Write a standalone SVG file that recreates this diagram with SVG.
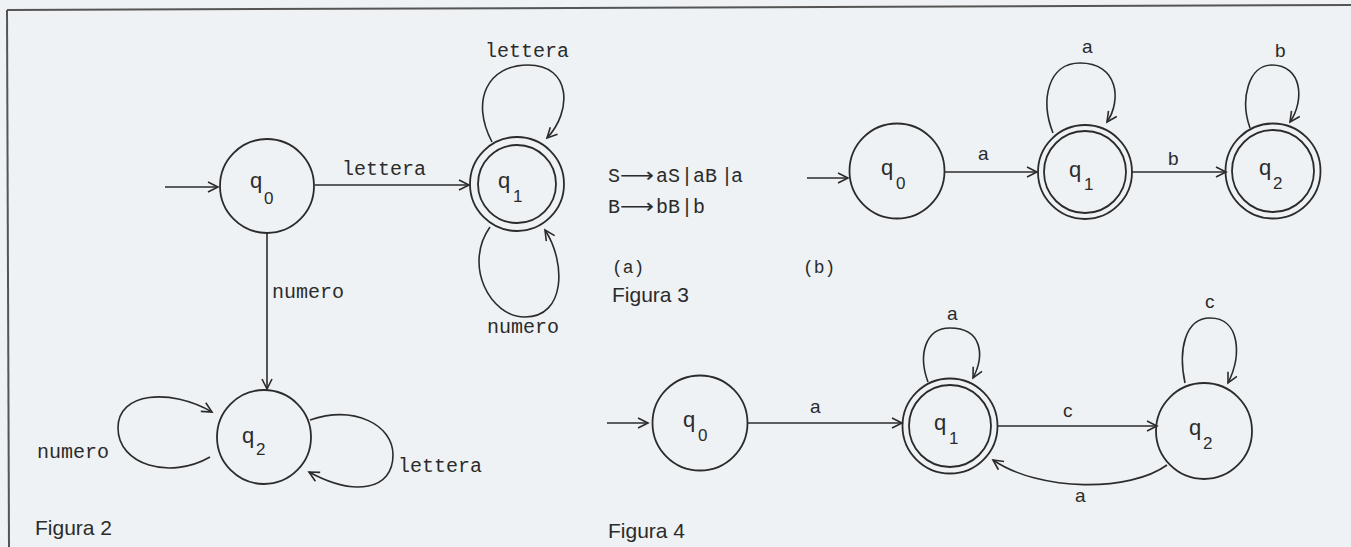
<svg xmlns="http://www.w3.org/2000/svg" width="1351" height="547" viewBox="0 0 1351 547">
<style>
.st{fill:none;stroke:#2b2b2b;stroke-width:1.8}
.ln{fill:none;stroke:#2b2b2b;stroke-width:1.6}
.mono{font-family:"Liberation Mono","DejaVu Sans Mono",monospace;font-size:20px;fill:#2b2b2b}
.sans{font-family:"Liberation Sans",Arial,sans-serif;font-size:19px;fill:#2b2b2b}
.cap{font-family:"Liberation Sans",Arial,sans-serif;font-size:21px;fill:#2b2b2b}
.q{font-family:"Liberation Sans",Arial,sans-serif;font-size:22px;fill:#2b2b2b}
.sub{font-family:"Liberation Sans",Arial,sans-serif;font-size:17px;fill:#2b2b2b}
</style>
<defs>
<marker id="ah" markerUnits="userSpaceOnUse" markerWidth="14" markerHeight="14" refX="11" refY="6" orient="auto">
<path d="M1,1 L11,6 L1,11" fill="none" stroke="#2b2b2b" stroke-width="1.6"/>
</marker>
</defs>
<rect width="1351" height="547" fill="#eef2f5"/>
<g id="frame">
<line x1="7" y1="10" x2="1351" y2="5" stroke="#555" stroke-width="2"/>
<line x1="7" y1="10" x2="9" y2="547" stroke="#555" stroke-width="2"/>
</g>

<g id="connectors">
<!-- Figura 2 -->
<line class="ln" x1="165" y1="187" x2="218" y2="187" marker-end="url(#ah)"/>
<line class="ln" x1="315" y1="185" x2="469" y2="185" marker-end="url(#ah)"/>
<path class="ln" d="M492,142 C470,100 488,65 528,65 C572,65 572,112 547,138" marker-end="url(#ah)"/>
<path class="ln" d="M490,227 C463,265 490,317 525,317 C566,317 566,262 545,230" marker-end="url(#ah)"/>
<line class="ln" x1="267" y1="233" x2="267" y2="389" marker-end="url(#ah)"/>
<path class="ln" d="M210,457 C170,480 118,465 118,428 C118,392 170,388 212,412" marker-end="url(#ah)"/>
<path class="ln" d="M310,420 C355,405 393,425 393,455 C393,490 355,497 309,472" marker-end="url(#ah)"/>
<!-- Figura 3 -->
<line class="ln" x1="807" y1="178" x2="848" y2="178" marker-end="url(#ah)"/>
<line class="ln" x1="945" y1="172" x2="1037" y2="172" marker-end="url(#ah)"/>
<path class="ln" d="M1053,133 C1040,100 1048,63 1080,63 C1118,63 1122,100 1107,122" marker-end="url(#ah)"/>
<line class="ln" x1="1132" y1="172" x2="1226" y2="172" marker-end="url(#ah)"/>
<path class="ln" d="M1250,128 C1240,100 1248,65 1272,65 C1302,65 1305,100 1290,122" marker-end="url(#ah)"/>
<!-- Figura 4 -->
<line class="ln" x1="607" y1="423" x2="648" y2="423" marker-end="url(#ah)"/>
<line class="ln" x1="747" y1="423" x2="902" y2="423" marker-end="url(#ah)"/>
<path class="ln" d="M928,382 C918,355 925,328 950,328 C982,328 985,355 973,378" marker-end="url(#ah)"/>
<line class="ln" x1="998" y1="426" x2="1157" y2="426" marker-end="url(#ah)"/>
<path class="ln" d="M1185,383 C1178,350 1185,318 1210,318 C1240,318 1242,355 1228,383" marker-end="url(#ah)"/>
<path class="ln" d="M1167,465 C1130,492 1040,492 993,460" marker-end="url(#ah)"/>
</g>

<g id="labels">
<text class="mono" x="342" y="175">lettera</text>
<text class="mono" x="485" y="57">lettera</text>
<text class="mono" x="487" y="333">numero</text>
<text class="mono" x="272" y="298">numero</text>
<text class="mono" x="37" y="458">numero</text>
<text class="mono" x="398" y="472">lettera</text>
<text class="sans" x="978" y="160">a</text>
<text class="sans" x="1082" y="53">a</text>
<text class="sans" x="1168" y="165">b</text>
<text class="sans" x="1275" y="57">b</text>
<text class="sans" x="810" y="413">a</text>
<text class="sans" x="947" y="320">a</text>
<text class="sans" x="1063" y="417">c</text>
<text class="sans" x="1205" y="308">c</text>
<text class="sans" x="1075" y="502">a</text>
</g>

<g id="grammar">
<text class="mono" y="182"><tspan x="608">S</tspan><tspan x="656">aS</tspan><tspan x="681">|</tspan><tspan x="693">aB</tspan><tspan x="721">|</tspan><tspan x="731">a</tspan></text>
<text class="mono" x="620" y="182" textLength="34" lengthAdjust="spacingAndGlyphs" style="font-family:'DejaVu Sans','Liberation Mono',sans-serif">⟶</text>
<text class="mono" y="213"><tspan x="608">B</tspan><tspan x="656">bB</tspan><tspan x="681">|</tspan><tspan x="693">b</tspan></text>
<text class="mono" x="620" y="213" textLength="34" lengthAdjust="spacingAndGlyphs" style="font-family:'DejaVu Sans','Liberation Mono',sans-serif">⟶</text>
<text class="mono" x="612" y="273" style="font-size:18px">(a)</text>
<text class="mono" x="803" y="273" style="font-size:18px">(b)</text>
</g>

<g id="captions">
<text class="cap" x="35" y="535">Figura 2</text>
<text class="cap" x="612" y="302">Figura 3</text>
<text class="cap" x="608" y="538">Figura 4</text>
</g>

<!-- Figura 2 nodes -->
<g id="f2-q0">
<circle class="st" cx="267" cy="186" r="47"/>
<text class="q" x="250" y="188">q</text><text class="sub" x="264" y="204">0</text>
</g>
<g id="f2-q1">
<circle class="st" cx="517" cy="184" r="47"/>
<circle class="st" cx="517" cy="184" r="39"/>
<text class="q" x="498" y="188">q</text><text class="sub" x="513" y="202">1</text>
</g>
<g id="f2-q2">
<circle class="st" cx="264" cy="437" r="47"/>
<text class="q" x="242" y="443">q</text><text class="sub" x="256" y="455">2</text>
</g>

<!-- Figura 3 nodes -->
<g id="f3-q0">
<circle class="st" cx="897" cy="171" r="47.5"/>
<text class="q" x="881" y="175">q</text><text class="sub" x="896" y="189">0</text>
</g>
<g id="f3-q1">
<circle class="st" cx="1085" cy="172" r="47"/>
<circle class="st" cx="1085" cy="172" r="41"/>
<text class="q" x="1069" y="177">q</text><text class="sub" x="1084" y="190">1</text>
</g>
<g id="f3-q2">
<circle class="st" cx="1273" cy="171" r="47.5"/>
<circle class="st" cx="1273" cy="171" r="41"/>
<text class="q" x="1259" y="175">q</text><text class="sub" x="1273" y="189">2</text>
</g>

<!-- Figura 4 nodes -->
<g id="f4-q0">
<circle class="st" cx="700" cy="423" r="47.5"/>
<text class="q" x="683" y="427">q</text><text class="sub" x="698" y="441">0</text>
</g>
<g id="f4-q1">
<circle class="st" cx="950" cy="426" r="47.5"/>
<circle class="st" cx="950" cy="426" r="41"/>
<text class="q" x="934" y="430">q</text><text class="sub" x="949" y="444">1</text>
</g>
<g id="f4-q2">
<circle class="st" cx="1204" cy="431" r="48"/>
<text class="q" x="1189" y="435">q</text><text class="sub" x="1203" y="449">2</text>
</g>
</svg>
